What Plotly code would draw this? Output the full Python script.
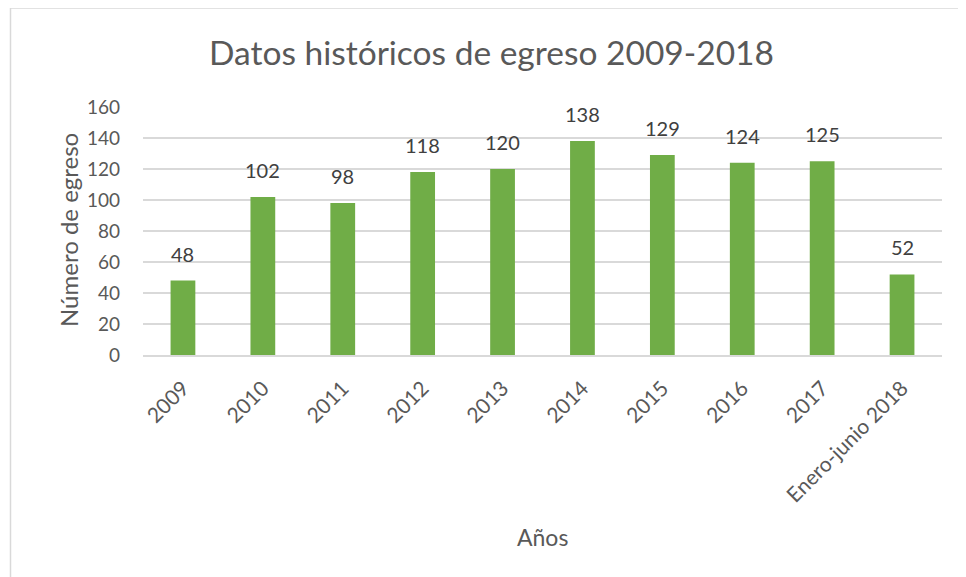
import plotly.graph_objects as go

categories = ["2009", "2010", "2011", "2012", "2013", "2014", "2015", "2016", "2017", "Enero-junio 2018"]
values = [48, 102, 98, 118, 120, 138, 129, 124, 125, 52]
y_ticks = [0, 20, 40, 60, 80, 100, 120, 140, 160]

title_text = "Datos históricos de egreso 2009-2018"
x_title = "Años"
y_title = "Número de egreso"

FONT = "Lato, 'Noto Sans', sans-serif"
TXT = "#595959"

# the page has an 8px body margin, so figure pixels = screen pixels - 8
W, H = 958, 569
L, T = 135, 99
R = W - 934
B = H - 347
pw = W - L - R
ph = H - T - B

def px_x(p):
    return (p - L) / pw

def px_y(p):
    return (H - B - p) / ph

fig = go.Figure()
fig.add_trace(go.Bar(
    x=categories, y=values,
    marker=dict(color="#70AD47", line=dict(width=0)),
    width=0.31, hoverinfo="x+y",
))

# category index positions (numeric-looking category names would be read as indices)
for i, v in enumerate(values):
    fig.add_annotation(x=i, y=v, xref="x", yref="y", text=str(v), showarrow=False,
                       yanchor="bottom", yshift=13,
                       font=dict(family=FONT, size=20, color="#404040"))

fig.update_layout(
    width=W, height=H,
    margin=dict(l=L, r=R, t=T, b=B),
    paper_bgcolor="white", plot_bgcolor="white",
    showlegend=False,
    font=dict(family=FONT, color=TXT),
    xaxis=dict(type="category", categoryorder="array", categoryarray=categories,
               range=[-0.5, len(categories) - 0.5],
               tickangle=-45, tickfont=dict(family=FONT, size=21, color=TXT),
               showgrid=False, showline=True, linecolor="#D9D9D9", linewidth=1.5,
               ticks="", ticklabelstandoff=11),
    yaxis=dict(range=[0, 160], tickvals=y_ticks, tickfont=dict(family=FONT, size=19, color=TXT),
               showgrid=True, gridcolor="#D9D9D9", gridwidth=1.5, zeroline=False,
               showline=False, ticks="", ticklabelstandoff=22),
)

fig.add_annotation(text=title_text, xref="paper", yref="paper",
                   x=px_x(483), y=px_y(44), showarrow=False,
                   xanchor="center", yanchor="middle",
                   font=dict(family=FONT, size=33.5, color=TXT))
fig.add_annotation(text=x_title, xref="paper", yref="paper",
                   x=px_x(534), y=px_y(529), showarrow=False,
                   xanchor="center", yanchor="middle",
                   font=dict(family=FONT, size=23, color=TXT))
fig.add_annotation(text=y_title, xref="paper", yref="paper",
                   x=px_x(60), y=px_y(222), showarrow=False, textangle=-90,
                   xanchor="center", yanchor="middle",
                   font=dict(family=FONT, size=24, color=TXT))

# chart border: only the top and left edges fall inside the picture
fig.add_shape(type="rect", xref="paper", yref="paper",
              x0=px_x(2.5), x1=px_x(975), y0=px_y(580), y1=px_y(0),
              line=dict(color="#D9D9D9", width=1.5), layer="below")

fig.write_html("out.html")
